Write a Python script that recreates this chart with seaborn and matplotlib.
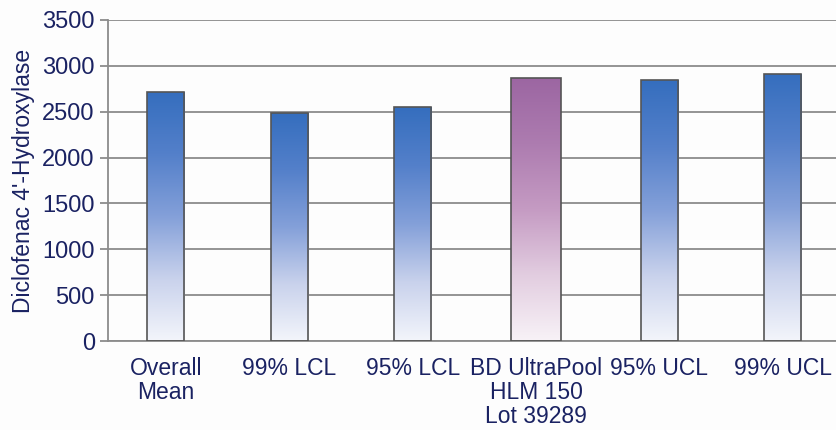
import numpy as np
import pandas as pd
import matplotlib
matplotlib.use("Agg")
import matplotlib.pyplot as plt
import seaborn as sns
from matplotlib.colors import LinearSegmentedColormap

categories = ["Overall\nMean", "99% LCL", "95% LCL", "BD UltraPool\nHLM 150\nLot 39289",
              "95% UCL", "99% UCL"]
values = [2710, 2485, 2550, 2865, 2845, 2915]
highlight = [False, False, False, True, False, False]
y_ticks = [0, 500, 1000, 1500, 2000, 2500, 3000, 3500]
y_label = "Diclofenac 4'-Hydroxylase"

text_color = "#1a2262"
grid_color = "#8c8c8c"

sns.set_theme(style="white")
plt.rcParams["font.family"] = ["Liberation Sans", "DejaVu Sans"]

df = pd.DataFrame({"category": categories, "value": values})

fig = plt.figure(figsize=(8.37, 4.30), dpi=100)
fig.patch.set_facecolor("#fdfdfd")
ax = fig.add_axes([108 / 837, 89 / 430, 729 / 837, 321 / 430])
ax.set_facecolor("none")

sns.barplot(data=df, x="category", y="value", ax=ax, width=0.3,
            facecolor="none", edgecolor="#555555", linewidth=1.2, zorder=3)

blue_cmap = LinearSegmentedColormap.from_list(
    "blue", ["#f3f5fb", "#c9d2ec", "#84a0d9", "#5480ca", "#356ebe"])
purple_cmap = LinearSegmentedColormap.from_list(
    "purple", ["#f8f2f7", "#e2cde0", "#c59bc3", "#ad7cb0", "#9c66a2"])

grad = np.linspace(0, 1, 256).reshape(-1, 1)
for patch, hl in zip(ax.patches, highlight):
    x0 = patch.get_x()
    w = patch.get_width()
    h = patch.get_height()
    if hl:
        cx = x0 + w / 2
        w = 0.4
        x0 = cx - w / 2
        patch.set_x(x0)
        patch.set_width(w)
    cmap = purple_cmap if hl else blue_cmap
    im = ax.imshow(grad, cmap=cmap, origin="lower", aspect="auto",
                   extent=(x0, x0 + w, 0, h), zorder=2, interpolation="bilinear")
    im.set_clip_path(patch)

ax.set_xlim(-0.47, 5.44)
ax.set_ylim(0, 3500)
ax.set_yticks(y_ticks)
ax.yaxis.grid(True, color=grid_color, linewidth=1.3, zorder=0)
ax.set_axisbelow(True)

for side in ["top", "right"]:
    ax.spines[side].set_visible(False)
ax.spines["left"].set_color(grid_color)
ax.spines["left"].set_linewidth(1.3)
ax.spines["bottom"].set_color(grid_color)
ax.spines["bottom"].set_linewidth(1.3)

ax.tick_params(axis="y", left=True, length=6, width=1.3, color=grid_color,
               labelsize=17, labelcolor=text_color, pad=3.5)
ax.tick_params(axis="x", bottom=False, labelsize=16.5, labelcolor=text_color, pad=5.5)
for lbl in ax.get_xticklabels():
    lbl.set_linespacing(1.07)

ax.set_xlabel("")
ax.set_ylabel(y_label, fontsize=16.5, color=text_color, labelpad=5)

fig.savefig("out.png", dpi=100, facecolor=fig.get_facecolor())
